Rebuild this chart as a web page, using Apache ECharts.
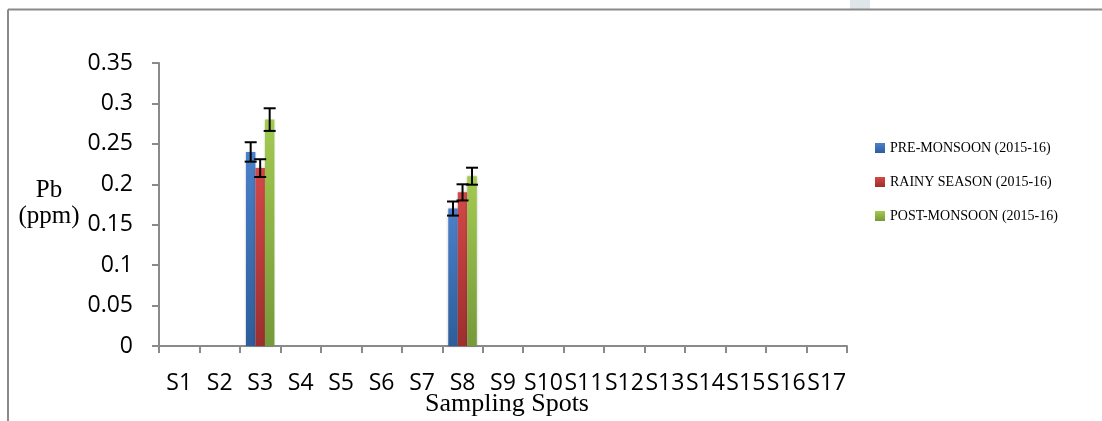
<!DOCTYPE html>
<html>
<head>
<meta charset="utf-8">
<script src="https://cdn.jsdelivr.net/npm/echarts@6/dist/echarts.min.js"></script>
<style>
html,body{margin:0;padding:0;background:#fff;}
#chart{width:1102px;height:421px;}
</style>
</head>
<body>
<div id="chart"></div>
<script>
var categories = ['S1','S2','S3','S4','S5','S6','S7','S8','S9','S10','S11','S12','S13','S14','S15','S16','S17'];
var seriesNames = ['PRE-MONSOON (2015-16)','RAINY SEASON (2015-16)','POST-MONSOON (2015-16)'];
var preMonsoon  = [null,null,0.24,null,null,null,null,0.17,null,null,null,null,null,null,null,null,null];
var rainy       = [null,null,0.22,null,null,null,null,0.19,null,null,null,null,null,null,null,null,null];
var postMonsoon = [null,null,0.28,null,null,null,null,0.21,null,null,null,null,null,null,null,null,null];
var preErr      = [null,null,0.012,null,null,null,null,0.0087,null,null,null,null,null,null,null,null,null];
var rainyErr    = [null,null,0.011,null,null,null,null,0.010,null,null,null,null,null,null,null,null,null];
var postErr     = [null,null,0.014,null,null,null,null,0.0105,null,null,null,null,null,null,null,null,null];
var yTicks = {min:0, max:0.35, interval:0.05};

var chart = echarts.init(document.getElementById('chart'), null, {renderer:'canvas'});
var BAR_W = 9.5;
function grad(top, bottom){
  return new echarts.graphic.LinearGradient(0,0,0,1,[{offset:0,color:top},{offset:1,color:bottom}]);
}
var colors = [grad('#4b80ca','#2d5d9a'), grad('#d44848','#9c2f2e'), grad('#a3ca50','#76993a')];
var values = [preMonsoon, rainy, postMonsoon];
var errs = [preErr, rainyErr, postErr];

var series = [];
values.forEach(function(v,i){
  series.push({
    name: seriesNames[i], type:'bar', data: v, barWidth: BAR_W, barGap:'0%',
    itemStyle:{color: colors[i], shadowBlur:3, shadowColor:'rgba(0,0,0,0.25)'}
  });
});
values.forEach(function(v,i){
  var d = [];
  v.forEach(function(val,k){ if(val!=null) d.push([k,val,errs[i][k]]); });
  series.push({
    type:'custom', name: seriesNames[i] + ' err', z:10, silent:true,
    data: d,
    renderItem: function(params, api){
      var k = api.value(0), val = api.value(1), e = api.value(2);
      var c = api.coord([k, val]);
      var hi = api.coord([k, val + e]);
      var lo = api.coord([k, val - e]);
      var x = c[0] + (i - 1) * BAR_W;
      var cap = 6;
      var st = {stroke:'#000', lineWidth:2};
      return {type:'group', children:[
        {type:'line', shape:{x1:x,y1:hi[1],x2:x,y2:lo[1]}, style:st},
        {type:'line', shape:{x1:x-cap,y1:hi[1],x2:x+cap,y2:hi[1]}, style:st},
        {type:'line', shape:{x1:x-cap,y1:lo[1],x2:x+cap,y2:lo[1]}, style:st}
      ]};
    }
  });
});

var option = {
  animation:false,
  backgroundColor:'#fff',
  grid:{left:159, right:255, top:63, bottom:75, containLabel:false},
  legend:{
    data: seriesNames, orient:'vertical', left:870, top:136,
    itemWidth:10, itemHeight:10, itemGap:20,
    textStyle:{fontFamily:'Liberation Serif', fontSize:14, color:'#000'},
    icon:'rect'
  },
  xAxis:{
    type:'category', data: categories,
    axisLine:{lineStyle:{color:'#8a8a8a', width:2}},
    axisTick:{show:true, length:7, lineStyle:{color:'#8a8a8a', width:2}},
    axisLabel:{interval:0, margin:26, color:'#000', fontFamily:'Open Sans', fontSize:23},
    splitLine:{show:false}
  },
  yAxis:{
    type:'value', min:yTicks.min, max:yTicks.max, interval:yTicks.interval,
    axisLine:{show:true, lineStyle:{color:'#8a8a8a', width:2}},
    axisTick:{show:true, length:7, lineStyle:{color:'#8a8a8a', width:2}},
    axisLabel:{margin:26, color:'#000', fontFamily:'Open Sans', fontSize:23},
    splitLine:{show:false}
  },
  graphic:[
    {type:'rect', shape:{x:850,y:0,width:20,height:9}, style:{fill:'#dfe6ea'}, silent:true, z:-1},
    {type:'line', shape:{x1:8,y1:9.5,x2:1102,y2:9.5}, style:{stroke:'#8a8a8a', lineWidth:2}, silent:true},
    {type:'line', shape:{x1:8,y1:9.5,x2:8,y2:421}, style:{stroke:'#8a8a8a', lineWidth:2}, silent:true},
    {type:'text', x:49, y:190.5, style:{text:'Pb', fontFamily:'Liberation Serif', fontSize:25, fill:'#000', textAlign:'center', textVerticalAlign:'middle'}, silent:true},
    {type:'text', x:49, y:216.5, style:{text:'(ppm)', fontFamily:'Liberation Serif', fontSize:25, fill:'#000', textAlign:'center', textVerticalAlign:'middle'}, silent:true},
    {type:'text', x:507, y:404, style:{text:'Sampling Spots', fontFamily:'Liberation Serif', fontSize:26, fill:'#000', textAlign:'center', textVerticalAlign:'middle'}, silent:true}
  ],
  series: series
};
chart.setOption(option);
</script>
</body>
</html>
